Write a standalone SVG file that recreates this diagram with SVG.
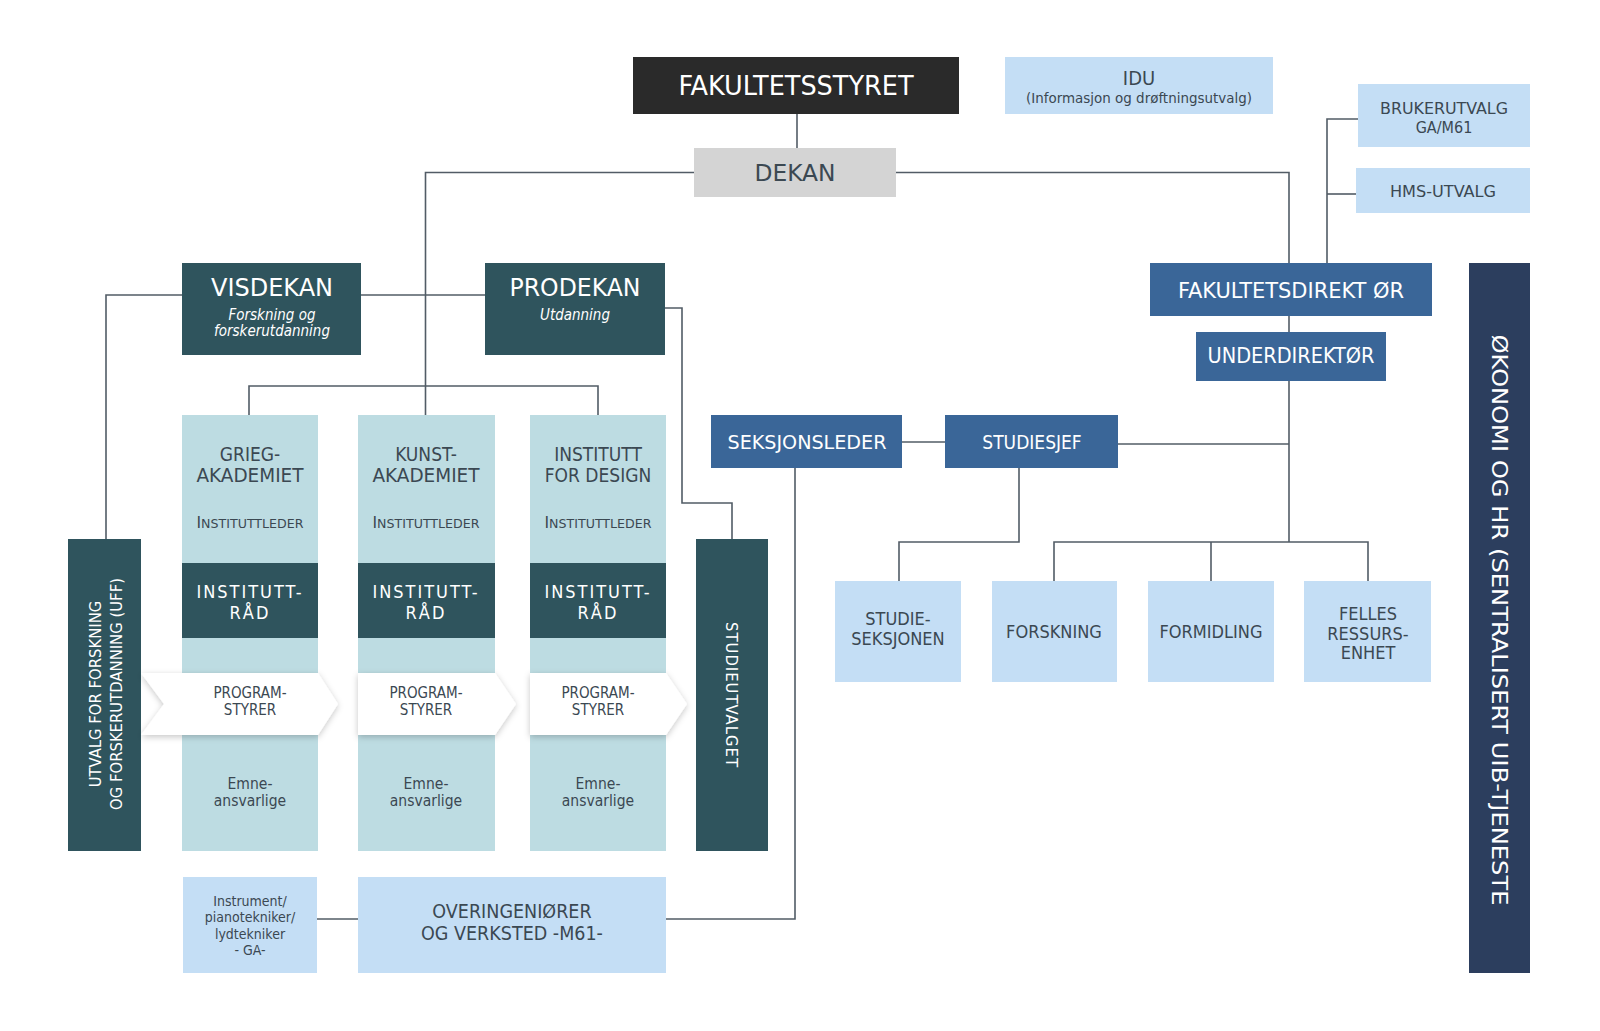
<svg xmlns="http://www.w3.org/2000/svg" width="1600" height="1031" viewBox="0 0 1600 1031">
<style>
  text { font-family: "Liberation Sans Narrow", "DejaVu Sans Condensed", "Liberation Sans", sans-serif; text-anchor: middle; }
  .lt { fill: #3b4852; }
  .wt { fill: #ffffff; }
  .it { font-style: italic; }
  .con { fill: none; stroke: #525c66; stroke-width: 1.6; }
  .dark { fill: #2a2a2a; }
  .gray { fill: #d4d4d4; }
  .lblue { fill: #c4def5; }
  .mblue { fill: #3a6698; }
  .navy { fill: #2c3e5e; }
  .teal { fill: #2f545d; }
  .lteal { fill: #bddce2; }
  .chev { fill: #ffffff; filter: url(#sh); }
</style>
<defs>
  <filter id="sh" x="-10%" y="-20%" width="120%" height="150%">
    <feDropShadow dx="0" dy="2" stdDeviation="3" flood-color="#000" flood-opacity="0.22"/>
  </filter>
</defs>
<rect width="1600" height="1031" fill="#ffffff"/>

<g id="connectors">
  <path class="con" d="M797,114 V148"/>
  <path class="con" d="M694,172.5 H425.5 V415"/>
  <path class="con" d="M249,415 V386 H598 V415"/>
  <path class="con" d="M896,172.5 H1289 V263"/>
  <path class="con" d="M361,295 H485"/>
  <path class="con" d="M182,295 H106 V539"/>
  <path class="con" d="M665,308 H682 V503 H732 V539"/>
  <path class="con" d="M1327,263 V119 H1358"/>
  <path class="con" d="M1327,194 H1356"/>
  <path class="con" d="M1289,316 V332"/>
  <path class="con" d="M1289,381 V542"/>
  <path class="con" d="M1118,444 H1289"/>
  <path class="con" d="M1054,581 V542 H1368 V581"/>
  <path class="con" d="M1211,542 V581"/>
  <path class="con" d="M1019,468 V542 H899 V581"/>
  <path class="con" d="M902,442 H945"/>
  <path class="con" d="M795,468 V919 H666"/>
  <path class="con" d="M317,919 H358"/>
</g>

<g id="fakultetsstyret">
  <rect class="dark" x="633" y="57" width="326" height="57"/>
  <text class="wt" x="796" y="95" font-size="26" textLength="235" lengthAdjust="spacingAndGlyphs">FAKULTETSSTYRET</text>
</g>
<g id="idu">
  <rect class="lblue" x="1005" y="57" width="268" height="57"/>
  <text class="lt" x="1139" y="85" font-size="20">IDU</text>
  <text class="lt" x="1139" y="103" font-size="14" textLength="226" lengthAdjust="spacingAndGlyphs">(Informasjon og drøftningsutvalg)</text>
</g>
<g id="dekan">
  <rect class="gray" x="694" y="148" width="202" height="49"/>
  <text class="lt" x="795" y="181" font-size="23" textLength="81" lengthAdjust="spacingAndGlyphs">DEKAN</text>
</g>
<g id="brukerutvalg">
  <rect class="lblue" x="1358" y="84" width="172" height="63"/>
  <text class="lt" x="1444" y="114" font-size="16" textLength="128" lengthAdjust="spacingAndGlyphs">BRUKERUTVALG</text>
  <text class="lt" x="1444" y="133" font-size="16">GA/M61</text>
</g>
<g id="hms-utvalg">
  <rect class="lblue" x="1356" y="168" width="174" height="45"/>
  <text class="lt" x="1443" y="197" font-size="16" textLength="106" lengthAdjust="spacingAndGlyphs">HMS-UTVALG</text>
</g>
<g id="fakultetsdirektor">
  <rect class="mblue" x="1150" y="263" width="282" height="53"/>
  <text class="wt" x="1291" y="298" font-size="21" textLength="226" lengthAdjust="spacingAndGlyphs">FAKULTETSDIREKT ØR</text>
</g>
<g id="underdirektor">
  <rect class="mblue" x="1196" y="332" width="190" height="49"/>
  <text class="wt" x="1291" y="363" font-size="21" textLength="167" lengthAdjust="spacingAndGlyphs">UNDERDIREKTØR</text>
</g>
<g id="okonomi-hr">
  <rect class="navy" x="1469" y="263" width="61" height="710"/>
  <text class="wt" transform="translate(1500,620) rotate(90)" font-size="22" dy="8" textLength="571" lengthAdjust="spacingAndGlyphs">ØKONOMI OG HR (SENTRALISERT UIB-TJENESTE</text>
</g>

<g id="visdekan">
  <rect class="teal" x="182" y="263" width="179" height="92"/>
  <text class="wt" x="272" y="296" font-size="24" textLength="122" lengthAdjust="spacingAndGlyphs">VISDEKAN</text>
  <text class="wt it" x="272" y="320" font-size="15">Forskning og</text>
  <text class="wt it" x="272" y="336" font-size="15">forskerutdanning</text>
</g>
<g id="prodekan">
  <rect class="teal" x="485" y="263" width="180" height="92"/>
  <text class="wt" x="575" y="296" font-size="24" textLength="131" lengthAdjust="spacingAndGlyphs">PRODEKAN</text>
  <text class="wt it" x="575" y="320" font-size="15">Utdanning</text>
</g>

<g id="uff">
  <rect class="teal" x="68" y="539" width="73" height="312"/>
  <text class="wt" transform="translate(95,694) rotate(-90)" font-size="16.5" dy="6">UTVALG FOR FORSKNING</text>
  <text class="wt" transform="translate(116,694) rotate(-90)" font-size="16.5" dy="6">OG FORSKERUTDANNING (UFF)</text>
</g>
<g id="studieutvalget">
  <rect class="teal" x="696" y="539" width="72" height="312"/>
  <text class="wt" transform="translate(732,695) rotate(90)" font-size="16.5" dy="6" letter-spacing="1">STUDIEUTVALGET</text>
</g>

<g id="griegakademiet">
  <rect class="lteal" x="182" y="415" width="136" height="436"/>
  <text class="lt" x="250" y="461" font-size="19">GRIEG-</text>
  <text class="lt" x="250" y="482" font-size="19" textLength="107" lengthAdjust="spacingAndGlyphs">AKADEMIET</text>
  <text class="lt" x="250" y="528" font-size="13" textLength="107" lengthAdjust="spacingAndGlyphs"><tspan font-size="16">I</tspan>NSTITUTTLEDER</text>
  <rect class="teal" x="182" y="563" width="136" height="75"/>
  <text class="wt" x="250" y="598" font-size="18" letter-spacing="2">INSTITUTT-</text>
  <text class="wt" x="250" y="619" font-size="18" letter-spacing="2">RÅD</text>
  <polygon class="chev" points="141,673 318,673 338,704 318,735 141,735 164,704"/>
  <text class="lt" x="250" y="698" font-size="15">PROGRAM-</text>
  <text class="lt" x="250" y="715" font-size="15">STYRER</text>
  <text class="lt" x="250" y="789" font-size="15.5">Emne-</text>
  <text class="lt" x="250" y="806" font-size="15.5">ansvarlige</text>
</g>
<g id="kunstakademiet">
  <rect class="lteal" x="358" y="415" width="137" height="436"/>
  <text class="lt" x="426" y="461" font-size="19">KUNST-</text>
  <text class="lt" x="426" y="482" font-size="19" textLength="107" lengthAdjust="spacingAndGlyphs">AKADEMIET</text>
  <text class="lt" x="426" y="528" font-size="13" textLength="107" lengthAdjust="spacingAndGlyphs"><tspan font-size="16">I</tspan>NSTITUTTLEDER</text>
  <rect class="teal" x="358" y="563" width="137" height="75"/>
  <text class="wt" x="426" y="598" font-size="18" letter-spacing="2">INSTITUTT-</text>
  <text class="wt" x="426" y="619" font-size="18" letter-spacing="2">RÅD</text>
  <polygon class="chev" points="358,673 495,673 516,704 495,735 358,735"/>
  <text class="lt" x="426" y="698" font-size="15">PROGRAM-</text>
  <text class="lt" x="426" y="715" font-size="15">STYRER</text>
  <text class="lt" x="426" y="789" font-size="15.5">Emne-</text>
  <text class="lt" x="426" y="806" font-size="15.5">ansvarlige</text>
</g>
<g id="institutt-for-design">
  <rect class="lteal" x="530" y="415" width="136" height="436"/>
  <text class="lt" x="598" y="461" font-size="19">INSTITUTT</text>
  <text class="lt" x="598" y="482" font-size="19">FOR DESIGN</text>
  <text class="lt" x="598" y="528" font-size="13" textLength="107" lengthAdjust="spacingAndGlyphs"><tspan font-size="16">I</tspan>NSTITUTTLEDER</text>
  <rect class="teal" x="530" y="563" width="136" height="75"/>
  <text class="wt" x="598" y="598" font-size="18" letter-spacing="2">INSTITUTT-</text>
  <text class="wt" x="598" y="619" font-size="18" letter-spacing="2">RÅD</text>
  <polygon class="chev" points="530,673 666,673 687,704 666,735 530,735"/>
  <text class="lt" x="598" y="698" font-size="15">PROGRAM-</text>
  <text class="lt" x="598" y="715" font-size="15">STYRER</text>
  <text class="lt" x="598" y="789" font-size="15.5">Emne-</text>
  <text class="lt" x="598" y="806" font-size="15.5">ansvarlige</text>
</g>

<g id="instrument">
  <rect class="lblue" x="183" y="877" width="134" height="96"/>
  <text class="lt" x="250" y="906" font-size="14">Instrument/</text>
  <text class="lt" x="250" y="922" font-size="14">pianotekniker/</text>
  <text class="lt" x="250" y="939" font-size="14">lydtekniker</text>
  <text class="lt" x="250" y="955" font-size="14">- GA-</text>
</g>
<g id="overingeniorer">
  <rect class="lblue" x="358" y="877" width="308" height="96"/>
  <text class="lt" x="512" y="918" font-size="19.5">OVERINGENIØRER</text>
  <text class="lt" x="512" y="940" font-size="19.5">OG VERKSTED -M61-</text>
</g>

<g id="seksjonsleder">
  <rect class="mblue" x="711" y="415" width="191" height="53"/>
  <text class="wt" x="807" y="449" font-size="19" textLength="159" lengthAdjust="spacingAndGlyphs">SEKSJONSLEDER</text>
</g>
<g id="studiesjef">
  <rect class="mblue" x="945" y="415" width="173" height="53"/>
  <text class="wt" x="1032" y="449" font-size="19">STUDIESJEF</text>
</g>
<g id="studieseksjonen">
  <rect class="lblue" x="835" y="581" width="126" height="101"/>
  <text class="lt" x="898" y="625" font-size="18">STUDIE-</text>
  <text class="lt" x="898" y="645" font-size="18">SEKSJONEN</text>
</g>
<g id="forskning">
  <rect class="lblue" x="992" y="581" width="125" height="101"/>
  <text class="lt" x="1054" y="638" font-size="18">FORSKNING</text>
</g>
<g id="formidling">
  <rect class="lblue" x="1148" y="581" width="126" height="101"/>
  <text class="lt" x="1211" y="638" font-size="18">FORMIDLING</text>
</g>
<g id="felles-ressursenhet">
  <rect class="lblue" x="1304" y="581" width="127" height="101"/>
  <text class="lt" x="1368" y="620" font-size="18">FELLES</text>
  <text class="lt" x="1368" y="640" font-size="18">RESSURS-</text>
  <text class="lt" x="1368" y="659" font-size="18">ENHET</text>
</g>
</svg>
